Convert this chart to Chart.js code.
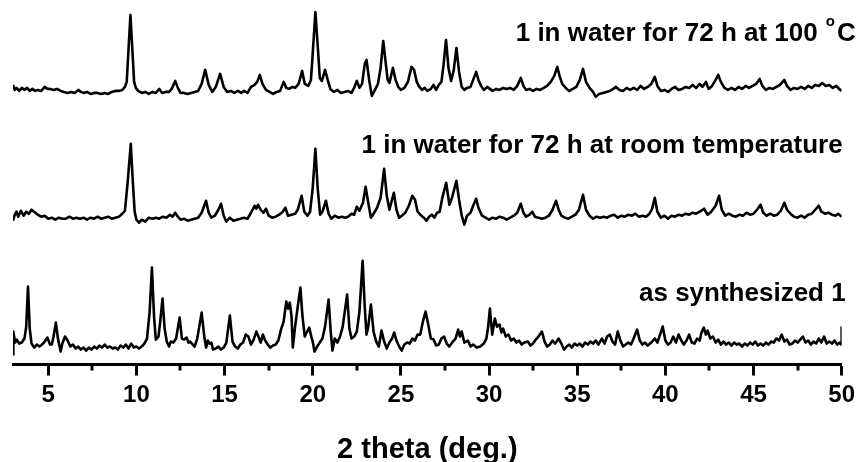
<!DOCTYPE html>
<html lang="en">
<head>
    <meta charset="UTF-8">
    <title>PXRD patterns of 1</title>
    <script src="https://cdn.jsdelivr.net/npm/chart.js"></script>
    <style>
        body {
            margin: 0;
            background: #fff;
        }
        .chart-box {
            width: 860px;
            height: 462px;
        }
    </style>
</head>
<body>
    <div class="chart-box">
        <canvas id="xrdChart"></canvas>
    </div>

    <script>
        // [2theta, intensity above the trace baseline]
        const hot100 = [
            [3.0,5],[3.1,0],[3.2,2],[3.35,-1],[3.5,2],[3.65,0],[3.8,2],[3.95,-1],[4.1,1],[4.25,-1],
            [4.4,0],[4.6,-1],[4.8,3],[4.95,1],[5.1,1],[5.3,0],[5.5,1],[5.7,-1],[5.9,-2],[6.1,-3],
            [6.3,-2],[6.5,-3],[6.7,0],[6.85,-2],[7.0,-3],[7.2,-2],[7.4,-4],[7.6,-3],[7.8,-3],[8.0,-4],
            [8.2,-3],[8.4,-4],[8.6,-2],[8.8,-1],[9.0,-1],[9.2,0],[9.35,3],[9.45,8],[9.55,40],[9.66,75],
            [9.77,40],[9.87,8],[9.97,2],[10.1,-1],[10.3,-3],[10.5,-2],[10.7,-4],[10.9,-2],[11.1,-3],[11.3,1],
            [11.45,-3],[11.65,-2],[11.85,-2],[12.0,1],[12.2,9],[12.35,2],[12.5,-3],[12.7,-3],[12.9,-4],[13.1,-3],
            [13.3,-2],[13.5,-1],[13.7,6],[13.9,20],[14.1,5],[14.3,-2],[14.5,3],[14.75,16],[14.95,3],[15.15,-2],
            [15.35,-1],[15.55,-3],[15.75,-1],[15.95,-3],[16.1,-1],[16.3,-3],[16.5,3],[16.7,5],[16.85,8],[17.0,15],
            [17.15,6],[17.35,0],[17.55,-2],[17.75,-4],[17.95,-2],[18.15,-1],[18.35,8],[18.5,2],[18.65,1],[18.85,3],
            [19.0,2],[19.2,6],[19.4,19],[19.55,6],[19.75,4],[19.9,10],[20.05,50],[20.15,78],[20.28,45],[20.4,12],
            [20.52,9],[20.7,20],[20.85,10],[21.0,1],[21.2,-2],[21.4,0],[21.6,-3],[21.8,-2],[22.0,-1],[22.2,-3],
            [22.35,2],[22.5,9],[22.65,2],[22.8,6],[22.95,26],[23.05,30],[23.2,10],[23.35,-6],[23.5,-1],[23.7,6],
            [23.85,22],[24.0,49],[24.12,30],[24.25,10],[24.35,7],[24.55,22],[24.7,10],[24.85,3],[25.0,0],[25.2,2],
            [25.4,8],[25.6,23],[25.75,20],[25.9,8],[26.05,3],[26.2,0],[26.35,2],[26.5,-1],[26.7,1],[26.85,5],
            [27.0,0],[27.15,5],[27.3,8],[27.42,25],[27.56,50],[27.7,22],[27.85,9],[28.0,20],[28.15,42],[28.3,18],
            [28.45,3],[28.6,0],[28.75,2],[28.95,3],[29.1,10],[29.27,18],[29.4,10],[29.55,4],[29.7,0],[29.9,3],
            [30.05,1],[30.2,-1],[30.4,1],[30.6,0],[30.8,2],[31.0,1],[31.2,2],[31.4,0],[31.6,4],[31.8,12],
            [31.95,4],[32.1,0],[32.3,1],[32.5,-1],[32.7,1],[32.9,0],[33.1,2],[33.3,4],[33.5,8],[33.7,14],
            [33.87,23],[34.0,14],[34.15,6],[34.35,2],[34.55,-1],[34.75,1],[34.95,3],[35.15,10],[35.33,21],[35.5,8],
            [35.7,2],[35.9,-2],[36.05,-7],[36.25,-4],[36.45,-3],[36.65,-2],[36.85,-1],[37.05,1],[37.2,3],[37.4,0],
            [37.6,-1],[37.8,2],[38.0,0],[38.2,2],[38.4,0],[38.6,4],[38.8,1],[39.0,3],[39.2,6],[39.4,13],
            [39.55,4],[39.75,-1],[39.95,0],[40.15,-2],[40.35,1],[40.55,3],[40.75,0],[40.95,1],[41.15,3],[41.35,2],
            [41.55,5],[41.75,2],[41.95,6],[42.1,3],[42.3,8],[42.45,1],[42.65,4],[42.85,10],[43.0,15],[43.15,8],
            [43.35,2],[43.55,0],[43.75,2],[43.95,0],[44.15,3],[44.35,1],[44.55,4],[44.75,2],[44.95,4],[45.15,6],
            [45.35,11],[45.5,4],[45.7,0],[45.9,2],[46.1,1],[46.3,3],[46.5,5],[46.75,10],[46.9,4],[47.1,0],
            [47.3,2],[47.5,1],[47.7,3],[47.9,1],[48.1,4],[48.3,2],[48.5,5],[48.7,4],[48.9,7],[49.1,4],
            [49.3,5],[49.5,2],[49.7,4],[49.85,1],[50.0,-1]
        ];

        const roomTemp = [
            [3.0,-3],[3.1,3],[3.2,6],[3.3,1],[3.45,7],[3.6,2],[3.75,6],[3.9,4],[4.05,8],[4.2,6],
            [4.4,3],[4.6,1],[4.8,2],[5.0,-1],[5.2,0],[5.4,-2],[5.6,0],[5.8,-1],[6.0,-1],[6.2,1],
            [6.4,-1],[6.6,0],[6.8,-1],[7.0,0],[7.2,-2],[7.4,0],[7.6,-1],[7.8,1],[8.0,-1],[8.2,0],
            [8.4,1],[8.6,-1],[8.8,0],[9.0,1],[9.2,4],[9.35,7],[9.5,35],[9.68,74],[9.8,35],[9.9,6],
            [10.0,-2],[10.15,-5],[10.3,-2],[10.5,-4],[10.7,0],[10.9,-1],[11.1,0],[11.3,-1],[11.5,1],[11.7,0],
            [11.9,3],[12.05,1],[12.2,5],[12.35,1],[12.5,-2],[12.7,-1],[12.9,-3],[13.1,-2],[13.3,-1],[13.5,0],
            [13.7,5],[13.95,17],[14.1,5],[14.25,0],[14.45,2],[14.65,8],[14.8,14],[14.95,2],[15.1,-4],[15.3,0],
            [15.5,-3],[15.7,-2],[15.9,-1],[16.1,0],[16.3,-1],[16.5,5],[16.7,12],[16.8,9],[16.9,13],[17.05,8],
            [17.2,5],[17.35,9],[17.5,2],[17.7,0],[17.9,1],[18.1,3],[18.3,6],[18.45,10],[18.6,2],[18.8,3],
            [19.0,4],[19.15,8],[19.37,22],[19.52,6],[19.7,2],[19.85,6],[20.0,30],[20.15,69],[20.28,30],[20.42,3],
            [20.55,6],[20.75,17],[20.9,4],[21.05,-1],[21.25,2],[21.45,0],[21.65,1],[21.85,0],[22.0,1],[22.2,4],
            [22.35,3],[22.5,11],[22.65,7],[22.85,15],[23.0,31],[23.15,15],[23.3,0],[23.45,4],[23.65,10],[23.85,20],
            [24.05,49],[24.2,22],[24.35,8],[24.6,25],[24.75,8],[24.9,0],[25.05,2],[25.25,5],[25.45,12],[25.65,22],
            [25.8,18],[25.95,6],[26.1,3],[26.3,0],[26.45,-3],[26.6,1],[26.75,3],[26.9,0],[27.05,5],[27.2,6],
            [27.35,20],[27.57,35],[27.75,13],[27.9,20],[28.15,37],[28.3,18],[28.45,2],[28.6,-7],[28.75,2],[28.95,5],
            [29.1,12],[29.27,19],[29.4,10],[29.6,2],[29.8,0],[30.0,-2],[30.2,0],[30.4,-1],[30.6,1],[30.8,0],
            [31.0,-2],[31.2,0],[31.4,2],[31.6,5],[31.8,14],[31.95,5],[32.1,1],[32.3,3],[32.45,6],[32.6,1],
            [32.8,0],[33.0,-1],[33.2,0],[33.4,2],[33.6,8],[33.8,17],[33.95,8],[34.1,2],[34.3,0],[34.5,-1],
            [34.7,1],[34.9,3],[35.1,8],[35.33,23],[35.5,8],[35.7,2],[35.9,-1],[36.1,1],[36.3,0],[36.5,1],
            [36.7,0],[36.9,2],[37.1,3],[37.3,0],[37.5,2],[37.7,1],[37.9,3],[38.1,2],[38.3,4],[38.5,1],
            [38.7,2],[38.9,1],[39.1,4],[39.25,9],[39.4,20],[39.55,6],[39.75,0],[39.95,2],[40.15,-1],[40.35,2],
            [40.55,1],[40.75,3],[40.95,2],[41.15,4],[41.35,3],[41.55,5],[41.75,4],[41.95,6],[42.2,9],[42.4,3],
            [42.6,6],[42.85,12],[43.05,22],[43.2,8],[43.4,2],[43.6,4],[43.8,2],[44.0,1],[44.2,3],[44.4,2],
            [44.6,5],[44.8,3],[45.0,4],[45.2,8],[45.4,13],[45.55,5],[45.75,2],[45.95,4],[46.15,2],[46.35,3],
            [46.55,7],[46.75,15],[46.9,8],[47.1,4],[47.3,1],[47.5,0],[47.7,2],[47.9,0],[48.1,3],[48.3,4],
            [48.5,8],[48.7,12],[48.85,6],[49.05,4],[49.25,5],[49.45,3],[49.65,2],[49.8,4],[50.0,1]
        ];

        const asSynth = [
            [3.0,-8],[3.02,15],[3.12,4],[3.22,7],[3.35,3],[3.5,4],[3.65,8],[3.75,20],[3.85,60],[3.95,18],
            [4.05,3],[4.2,-1],[4.35,2],[4.5,0],[4.65,2],[4.8,5],[4.95,9],[5.1,2],[5.2,2],[5.3,10],
            [5.43,24],[5.55,8],[5.7,-5],[5.8,3],[5.95,10],[6.1,6],[6.25,0],[6.4,2],[6.55,-2],[6.7,0],
            [6.85,-3],[7.0,-1],[7.15,-4],[7.3,-1],[7.45,-3],[7.6,0],[7.75,-2],[7.9,1],[8.05,-1],[8.2,2],
            [8.35,-1],[8.5,0],[8.65,-2],[8.8,-1],[8.95,-3],[9.1,1],[9.25,-1],[9.4,2],[9.55,-2],[9.7,3],
            [9.85,-1],[10.0,0],[10.15,-2],[10.3,0],[10.45,3],[10.6,8],[10.75,35],[10.88,79],[11.0,30],[11.1,7],
            [11.25,10],[11.35,25],[11.48,48],[11.6,18],[11.72,5],[11.85,0],[11.95,5],[12.1,4],[12.25,8],[12.45,29],
            [12.58,8],[12.7,7],[12.85,9],[12.95,4],[13.05,5],[13.15,3],[13.3,0],[13.45,8],[13.7,34],[13.85,10],
            [13.95,-1],[14.05,6],[14.15,3],[14.25,4],[14.35,-3],[14.5,-2],[14.65,0],[14.8,-3],[14.95,-1],[15.1,4],
            [15.3,31],[15.45,5],[15.6,0],[15.75,-2],[15.9,2],[16.05,4],[16.2,12],[16.35,10],[16.5,2],[16.65,7],
            [16.8,15],[16.92,10],[17.05,4],[17.17,12],[17.3,6],[17.45,2],[17.6,-1],[17.75,1],[17.9,2],[18.05,6],
            [18.2,17],[18.35,25],[18.5,45],[18.6,38],[18.7,44],[18.8,30],[18.87,-1],[19.0,20],[19.15,40],[19.3,59],
            [19.42,30],[19.55,10],[19.65,14],[19.8,19],[19.92,10],[20.0,5],[20.1,-5],[20.25,0],[20.4,4],[20.55,8],
            [20.7,20],[20.9,47],[21.02,15],[21.12,-4],[21.25,8],[21.4,4],[21.55,10],[21.7,20],[21.95,52],[22.08,18],
            [22.2,8],[22.35,10],[22.5,15],[22.65,35],[22.83,86],[22.95,40],[23.05,12],[23.15,20],[23.3,42],[23.45,15],
            [23.6,5],[23.75,0],[23.9,16],[24.05,5],[24.2,-2],[24.35,4],[24.5,8],[24.62,14],[24.75,6],[24.9,0],
            [25.05,-4],[25.2,2],[25.35,4],[25.5,3],[25.65,8],[25.8,6],[25.95,12],[26.1,12],[26.25,25],[26.4,35],
            [26.55,22],[26.7,8],[26.85,7],[27.0,1],[27.15,2],[27.3,8],[27.45,10],[27.6,3],[27.75,0],[27.95,5],
            [28.1,8],[28.25,17],[28.35,10],[28.45,15],[28.6,4],[28.8,6],[28.95,0],[29.1,2],[29.3,-1],[29.5,0],
            [29.7,3],[29.85,8],[29.95,20],[30.05,38],[30.18,12],[30.33,28],[30.45,20],[30.6,22],[30.7,14],[30.8,18],
            [30.95,10],[31.1,12],[31.25,6],[31.4,8],[31.55,4],[31.7,6],[31.85,2],[32.0,4],[32.2,5],[32.35,1],
            [32.5,3],[32.65,7],[32.8,10],[33.0,15],[33.15,5],[33.3,0],[33.45,2],[33.6,6],[33.75,3],[33.95,8],
            [34.1,3],[34.25,-3],[34.4,0],[34.55,2],[34.7,-1],[34.85,3],[35.0,1],[35.15,3],[35.3,0],[35.45,4],
            [35.6,2],[35.75,5],[35.9,3],[36.05,6],[36.2,2],[36.4,8],[36.55,3],[36.7,10],[36.85,12],[37.0,5],
            [37.15,2],[37.3,15],[37.45,6],[37.6,0],[37.75,2],[37.9,4],[38.05,2],[38.2,8],[38.4,17],[38.55,6],
            [38.7,2],[38.85,4],[39.0,1],[39.2,4],[39.4,8],[39.55,4],[39.7,12],[39.85,20],[40.0,6],[40.15,2],
            [40.3,4],[40.45,10],[40.6,4],[40.75,12],[40.9,6],[41.05,2],[41.2,6],[41.35,12],[41.5,4],[41.65,3],
            [41.8,8],[41.95,6],[42.05,14],[42.18,19],[42.3,12],[42.4,16],[42.55,8],[42.7,10],[42.85,4],[43.0,7],
            [43.15,2],[43.3,5],[43.45,2],[43.6,4],[43.75,1],[43.9,4],[44.05,2],[44.2,3],[44.35,0],[44.5,3],
            [44.65,1],[44.8,4],[44.95,2],[45.1,5],[45.25,1],[45.4,3],[45.55,1],[45.7,4],[45.85,2],[46.0,5],
            [46.15,4],[46.3,8],[46.45,6],[46.6,12],[46.75,5],[46.9,7],[47.05,2],[47.2,3],[47.35,6],[47.5,4],
            [47.65,7],[47.8,10],[47.95,4],[48.1,6],[48.25,2],[48.4,5],[48.55,3],[48.7,8],[48.85,4],[49.0,10],
            [49.15,3],[49.3,5],[49.45,3],[49.6,6],[49.75,2],[49.9,4],[49.97,2],[50.0,20]
        ];

        const traceNames = [
            'as synthesized 1',
            '1 in water for 72 h at room temperature',
            '1 in water for 72 h at 100 \u00B0C'
        ];
        const xTicks = [5, 10, 15, 20, 25, 30, 35, 40, 45, 50];

        const FONT = '"Liberation Sans", Arial, Helvetica, sans-serif';

        // vertical offset of each pattern in the stack (bottom to top)
        const shift = [18, 147, 275];
        const toPoints = (arr, dy) => arr.map(p => ({ x: p[0], y: p[1] + dy }));

        // minor ticks + pattern labels
        const decorations = {
            id: 'decorations',
            afterDraw(chart) {
                const { ctx, scales: { x, y } } = chart;
                const bottom = x.top;
                ctx.save();
                ctx.strokeStyle = '#000';
                ctx.lineWidth = 3;
                for (let v = 7.5; v < 50; v += 5) {
                    const px = Math.round(x.getPixelForValue(v));
                    ctx.beginPath();
                    ctx.moveTo(px, bottom);
                    ctx.lineTo(px, bottom + 6);
                    ctx.stroke();
                }

                ctx.fillStyle = '#000';
                ctx.textBaseline = 'alphabetic';
                const right = x.getPixelForValue(50);

                // as synthesized / room temperature
                ctx.font = 'bold 26px ' + FONT;
                ctx.textAlign = 'right';
                ctx.fillText(traceNames[0], right + 4, y.getPixelForValue(64));
                ctx.fillText(traceNames[1], right + 1, y.getPixelForValue(212));

                // 100 °C label with a raised "o" for degrees
                const main = '1 in water for 72 h at 100';
                ctx.textAlign = 'left';
                ctx.font = 'bold 26px ' + FONT;
                const wMain = ctx.measureText(main).width;
                const wC = ctx.measureText('C').width;
                ctx.font = 'bold 15px ' + FONT;
                const wO = ctx.measureText('o').width;
                const base = y.getPixelForValue(324);
                const gap = 8;
                let sx = right + 14 - wC - wO - wMain - gap - 2;
                ctx.font = 'bold 26px ' + FONT;
                ctx.fillText(main, sx, base);
                sx += wMain + gap;
                ctx.font = 'bold 15px ' + FONT;
                ctx.fillText('o', sx, base - 15);
                sx += wO + 2;
                ctx.font = 'bold 26px ' + FONT;
                ctx.fillText('C', sx, base);
                ctx.restore();
            }
        };

        const line = {
            borderColor: '#000',
            borderWidth: 2.6,
            pointRadius: 0,
            tension: 0,
            fill: false,
            borderJoinStyle: 'round'
        };

        new Chart(document.getElementById('xrdChart'), {
            type: 'line',
            data: {
                datasets: [
                    { ...line, label: traceNames[0], data: toPoints(asSynth, shift[0]) },
                    { ...line, label: traceNames[1], data: toPoints(roomTemp, shift[1]) },
                    { ...line, label: traceNames[2], data: toPoints(hot100, shift[2]) }
                ]
            },
            options: {
                responsive: true,
                maintainAspectRatio: false,
                animation: false,
                layout: { padding: { left: 13, right: 17, top: 0, bottom: 0 } },
                plugins: {
                    legend: { display: false },
                    tooltip: { enabled: false }
                },
                scales: {
                    x: {
                        type: 'linear',
                        min: 3,
                        max: 50,
                        border: { display: true, color: '#000', width: 3 },
                        grid: {
                            drawOnChartArea: false,
                            drawTicks: true,
                            tickLength: 11,
                            tickWidth: 3,
                            tickColor: '#000'
                        },
                        afterBuildTicks: axis => {
                            axis.ticks = xTicks.map(v => ({ value: v }));
                        },
                        ticks: {
                            autoSkip: false,
                            maxRotation: 0,
                            padding: 5,
                            color: '#000',
                            font: { family: FONT, size: 24, weight: 'bold' }
                        },
                        title: {
                            display: true,
                            text: '2 theta (deg.)',
                            color: '#000',
                            font: { family: FONT, size: 29, weight: 'bold', lineHeight: 0.85 },
                            padding: { top: 23, bottom: 0 }
                        }
                    },
                    y: {
                        display: false,
                        min: 0,
                        max: 365
                    }
                }
            },
            plugins: [decorations]
        });
    </script>
</body>
</html>
